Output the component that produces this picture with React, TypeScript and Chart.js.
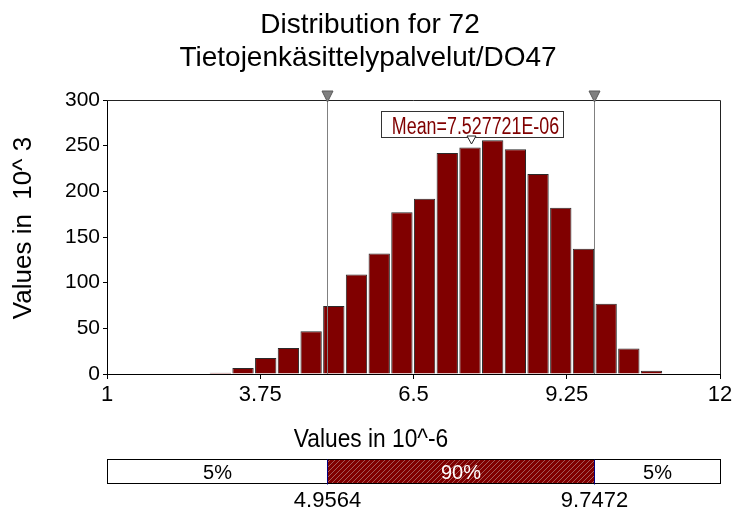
import React, { useEffect, useRef } from 'react';
import { Chart, registerables } from 'chart.js';

Chart.register(...registerables);

const TITLE_LINES = ['Distribution for 72', 'Tietojenkäsittelypalvelut/DO47'];
const Y_TITLE = 'Values in  10^ 3';
const X_TITLE = 'Values in 10^-6';

const BIN_CENTERS = [3.034, 3.441, 3.848, 4.255, 4.663, 5.07, 5.477, 5.885, 6.292, 6.699, 7.106, 7.514, 7.921, 8.328, 8.735, 9.143, 9.55, 9.957, 10.364, 10.771];
const BIN_HEIGHTS = [1.5, 6.6, 17.5, 28.4, 46.7, 74.4, 109, 132, 177, 192, 242, 248, 256, 246, 219, 182, 137, 77, 28, 3.6];

const X_TICKS = [1, 3.75, 6.5, 9.25, 12];
const Y_MIN = 0;
const Y_MAX = 300;
const Y_STEP = 50;

const LOWER = 4.9564;
const UPPER = 9.7472;
const MEAN = 7.527721;
const MEAN_LABEL = 'Mean=7.527721E-06';
const BAND_LABELS = ['5%', '90%', '5%'];
const BOUND_LABELS = ['4.9564', '9.7472'];

const FONT = "'Liberation Sans', Arial, sans-serif";
const BAR_RED = '#800000';

function makeHatch(): CanvasPattern | string {
  const c = document.createElement('canvas');
  c.width = 5;
  c.height = 5;
  const g = c.getContext('2d');
  if (!g) return BAR_RED;
  g.fillStyle = BAR_RED;
  g.fillRect(0, 0, 5, 5);
  g.strokeStyle = 'rgba(200,185,185,0.7)';
  g.lineWidth = 0.7;
  g.beginPath();
  g.moveTo(0, 5);
  g.lineTo(5, 0);
  g.moveTo(-1, 1);
  g.lineTo(1, -1);
  g.moveTo(4, 6);
  g.lineTo(6, 4);
  g.stroke();
  const p = g.createPattern(c, 'repeat');
  return p || BAR_RED;
}

const overlayPlugin = {
  id: 'overlay',
  afterDatasetsDraw(chart: any) {
    const { ctx, chartArea: a } = chart;
    const x = chart.scales.x;
    const xl = x.getPixelForValue(LOWER);
    const xu = x.getPixelForValue(UPPER);
    const xm = x.getPixelForValue(MEAN);
    ctx.save();
    // frame top and right
    ctx.lineWidth = 1;
    ctx.strokeStyle = '#222';
    ctx.beginPath();
    ctx.moveTo(a.left, a.top + 0.5);
    ctx.lineTo(a.right + 0.5, a.top + 0.5);
    ctx.lineTo(a.right + 0.5, a.bottom);
    ctx.stroke();
    // vertical percentile lines
    ctx.strokeStyle = '#808080';
    for (const px of [xl, xu]) {
      const rx = Math.round(px) + 0.5;
      ctx.beginPath();
      ctx.moveTo(rx, a.top);
      ctx.lineTo(rx, a.bottom);
      ctx.stroke();
    }
    // grey triangles
    for (const px of [xl, xu]) {
      const rx = Math.round(px) + 0.5;
      ctx.beginPath();
      ctx.moveTo(rx - 5.5, a.top - 9);
      ctx.lineTo(rx + 5.5, a.top - 9);
      ctx.lineTo(rx, a.top + 2);
      ctx.closePath();
      ctx.fillStyle = '#808080';
      ctx.fill();
      ctx.strokeStyle = '#5a5a5a';
      ctx.stroke();
    }
    // mean box
    const bw = 182;
    const bh = 26;
    const bx = Math.round(xm - bw / 2 + 1) + 0.5;
    const by = a.top + 11.5;
    ctx.fillStyle = '#fff';
    ctx.fillRect(bx, by, bw, bh);
    ctx.strokeStyle = '#333';
    ctx.strokeRect(bx, by, bw, bh);
    ctx.save();
    ctx.translate(bx + bw / 2 + 3, by + 22);
    ctx.scale(0.76, 1);
    ctx.font = `23.5px ${FONT}`;
    ctx.fillStyle = BAR_RED;
    ctx.textAlign = 'center';
    ctx.textBaseline = 'alphabetic';
    ctx.fillText(MEAN_LABEL, 0, 0);
    ctx.restore();
    // small white triangle
    const tx = Math.round(xm) + 0.5;
    ctx.beginPath();
    ctx.moveTo(tx - 4.5, a.top + 36);
    ctx.lineTo(tx + 4.5, a.top + 36);
    ctx.lineTo(tx, a.top + 44);
    ctx.closePath();
    ctx.fillStyle = '#fff';
    ctx.fill();
    ctx.strokeStyle = '#222';
    ctx.stroke();
    ctx.restore();
  },
  afterDraw(chart: any) {
    const { ctx, chartArea: a } = chart;
    const x = chart.scales.x;
    const xl = Math.round(x.getPixelForValue(LOWER)) + 0.5;
    const xu = Math.round(x.getPixelForValue(UPPER)) + 0.5;
    ctx.save();
    ctx.fillStyle = '#000';
    // Titles
    ctx.textAlign = 'center';
    ctx.textBaseline = 'alphabetic';
    ctx.font = `28px ${FONT}`;
    ctx.fillText(TITLE_LINES[0], 370, 33);
    ctx.fillText(TITLE_LINES[1], 368, 66);
    // Y title
    ctx.save();
    ctx.translate(24, 228);
    ctx.rotate(-Math.PI / 2);
    ctx.font = `26px ${FONT}`;
    ctx.textBaseline = 'middle';
    ctx.fillText(Y_TITLE, 0, 0);
    ctx.restore();
    // X title
    ctx.save();
    ctx.translate(371, 447);
    ctx.scale(0.91, 1);
    ctx.font = `25px ${FONT}`;
    ctx.fillText(X_TITLE, 0, 0);
    ctx.restore();
    // bottom band
    const top = 459.5;
    const h = 24;
    const left = Math.round(a.left) + 0.5;
    const right = Math.round(a.right) + 0.5;
    ctx.fillStyle = '#fff';
    ctx.fillRect(left, top, right - left, h);
    ctx.fillStyle = makeHatch();
    ctx.fillRect(xl, top, xu - xl, h);
    ctx.strokeStyle = '#000';
    ctx.lineWidth = 1;
    ctx.strokeRect(left, top, right - left, h);
    ctx.strokeStyle = '#000080';
    for (const px of [xl, xu]) {
      ctx.beginPath();
      ctx.moveTo(px, top);
      ctx.lineTo(px, top + h + 1);
      ctx.stroke();
    }
    ctx.font = `20px ${FONT}`;
    ctx.textBaseline = 'alphabetic';
    ctx.fillStyle = '#000';
    ctx.fillText(BAND_LABELS[0], (left + xl) / 2, top + 19);
    ctx.fillStyle = '#fff';
    ctx.fillText(BAND_LABELS[1], (xl + xu) / 2, top + 19);
    ctx.fillStyle = '#000';
    ctx.fillText(BAND_LABELS[2], (xu + right) / 2, top + 19);
    ctx.font = `22px ${FONT}`;
    ctx.fillText(BOUND_LABELS[0], xl, 507);
    ctx.fillText(BOUND_LABELS[1], xu, 507);
    ctx.restore();
  },
};

export default function App() {
  const ref = useRef<HTMLCanvasElement | null>(null);
  useEffect(() => {
    if (!ref.current) return;
    const chart = new Chart(ref.current, {
      type: 'bar',
      data: {
        datasets: [
          {
            data: BIN_CENTERS.map((c, i) => ({ x: c, y: BIN_HEIGHTS[i] })),
            backgroundColor: BAR_RED,
            borderColor: '#2a2a2a',
            borderWidth: 1,
            barPercentage: 0.94,
            categoryPercentage: 1,
          },
        ],
      },
      options: {
        animation: false,
        responsive: false,
        events: [],
        layout: { padding: { top: 100, right: 16, left: 0, bottom: 0 } },
        plugins: {
          legend: { display: false },
          title: { display: false },
          tooltip: { enabled: false },
        },
        scales: {
          x: {
            type: 'linear',
            min: 1,
            max: 12,
            offset: false,
            afterBuildTicks: (s: any) => {
              s.ticks = X_TICKS.map((v) => ({ value: v }));
            },
            afterFit: (s: any) => {
              s.height = 138;
            },
            grid: { display: true, offset: false, drawOnChartArea: false, drawTicks: true, tickLength: 5, color: '#000' },
            border: { display: true, color: '#000' },
            ticks: {
              color: '#000',
              font: { family: FONT, size: 22 },
              padding: 3,
              maxRotation: 0,
              autoSkip: false,
              callback: (v: any) => String(v),
            },
          },
          y: {
            min: Y_MIN,
            max: Y_MAX,
            afterFit: (s: any) => {
              s.width = 107;
            },
            grid: { display: true, offset: false, drawOnChartArea: false, drawTicks: true, tickLength: 4, color: '#000' },
            border: { display: true, color: '#000' },
            ticks: {
              stepSize: Y_STEP,
              color: '#000',
              font: { family: FONT, size: 21 },
              padding: 3,
            },
          },
        },
      },
      plugins: [overlayPlugin],
    } as any);
    return () => chart.destroy();
  }, []);
  return (
    <div style={{ position: 'absolute', left: 0, top: 0, width: 736, height: 512, background: '#fff' }}>
      <canvas ref={ref} width={736} height={512} />
    </div>
  );
}
